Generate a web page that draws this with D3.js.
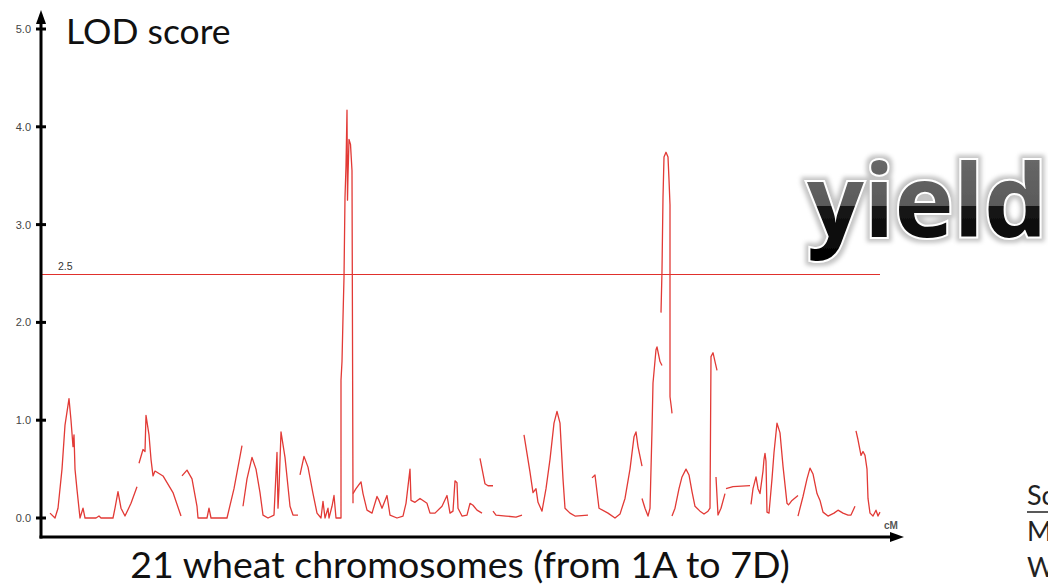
<!DOCTYPE html>
<html>
<head>
<meta charset="utf-8">
<script src="https://cdn.jsdelivr.net/npm/d3@7"></script>
<style>
html,body{margin:0;padding:0;background:#fff;overflow:hidden;}
svg{display:block;}
</style>
</head>
<body>
<svg id="chart" width="1048" height="586"></svg>
<script>
// ---- data (map position along the concatenated genome, LOD) ----
const yTicks = [0, 1, 2, 3, 4, 5];
const yTickLabels = ["0.0", "1.0", "2.0", "3.0", "4.0", "5.0"];
const threshold = 2.5;
const thresholdLabel = "2.5";
const genomeLength = 860;
const thresholdEnd = 839;
const yTitle = "LOD score";
const xTitle = "21 wheat chromosomes (from 1A to 7D)";
const xUnit = "cM";
const traitLabel = "yield";
const sideNotes = ["Sc", "M", "W"];

const segA = [[9,0.05],[14,0],[17,0.1],[21,0.5],[24,0.95],[28,1.22],[30,1.0],[32,0.73],[33,0.85],[34,0.5],[36,0.29],[39,0],[42,0.1],[44,0],[55,0],[58,0.02],[60,0],[72,0],[74,0.1],[77,0.27],[80,0.1],[84,0.02],[90,0.15],[96,0.32]];
const segB = [[98,0.56],[102,0.7],[104,0.68],[105,1.05],[108,0.85],[110,0.6],[112,0.43],[114,0.48],[122,0.43],[132,0.26],[140,0.02]];
const segC = [[141,0.43],[146,0.49],[151,0.4],[156,0.12],[157,0],[166,0],[168,0.1],[170,0],[186,0],[193,0.3],[201,0.74]];
const segD = [[202,0.12],[206,0.4],[211,0.62],[215,0.5],[219,0.26],[222,0.03],[227,0],[233,0.03],[236,0.67],[237,0.1],[238,0.3],[240,0.88],[244,0.62],[249,0.12],[252,0.03],[257,0.03]];
const segE = [[259,0.44],[263,0.63],[267,0.52],[272,0.25],[276,0.05],[280,0],[282,0.17],[284,0],[287,0.1],[288,0],[291,0.12],[293,0.23],[295,0],[300,0],[300,1.41],[301,1.6],[302,2.05],[303,2.46],[304,3.28],[305,3.6],[306,4.17],[306.5,3.25],[307,3.5],[308,3.87],[309.5,3.82],[311,3.55],[312,0.15]];
const segF = [[312,0.25],[315,0.3],[320,0.37],[322,0.25],[326,0.08],[331,0.05],[336,0.22],[338,0.18],[341,0.1],[346,0.23],[349,0.03],[356,0],[362,0.02],[365,0.15],[369,0.5],[370,0.18],[374,0.16],[379,0.2],[386,0.15],[389,0.05],[394,0.05],[401,0.12],[406,0.23],[409,0.05],[412,0.07],[414,0.38],[416,0.36],[417,0.1],[421,0.02],[426,0.03],[429,0.15],[432,0.13],[436,0.08],[441,0.05]];
const segG = [[439,0.61],[444,0.35],[447,0.33],[452,0.33]];
const segH = [[452,0.07],[455,0.03],[465,0.02],[475,0.01],[481,0.03]];
const segI = [[483,0.85],[489,0.47],[492,0.26],[495,0.3],[497,0.16],[501,0.07],[505,0.3],[509,0.6],[513,0.97],[516,1.09],[519,0.97],[522,0.4],[524,0.1],[529,0.05],[534,0.02],[547,0.03]];
const segJ = [[551,0.41],[554,0.44],[558,0.1],[567,0.05],[574,0],[579,0.04],[584,0.2],[589,0.5],[593,0.83],[595,0.88],[597,0.73],[601,0.53]];
const segK = [[601,0.2],[604,0.1],[607,0.02],[609,0.1],[611,0.9],[612,1.38],[615,1.72],[616,1.75],[619,1.6],[621,1.56]];
const segL = [[620,2.1],[621,2.53],[622,3.28],[623,3.69],[625,3.74],[627,3.69],[628,3.46],[629,3.2],[629,1.24],[630.5,1.12],[631,1.07]];
const segM = [[631,0.02],[634,0.1],[638,0.3],[641,0.42],[645,0.5],[648,0.44],[651,0.27],[654,0.12],[659,0.07],[663,0.04],[667,0.07],[669,0.1],[670,1.65],[672,1.69],[674,1.6],[676,1.51]];
const segN = [[675,0.42],[677,0.03],[680,0.1],[684,0.25]];
const segO = [[685,0.3],[692,0.32],[709,0.33]];
const segP = [[710,0.14],[712,0.3],[715,0.42],[717,0.3],[719,0.25],[722,0.48],[723,0.6],[724,0.66],[725,0.58],[726,0.06],[728,0.05],[731,0.4],[733,0.67],[736,0.97],[739,0.87],[742,0.53],[746,0.15],[748,0.13]];
const segQ = [[748,0.14],[751,0.18],[757,0.23]];
const segR = [[757,0.02],[762,0.22],[766,0.4],[769,0.51],[772,0.45],[776,0.25],[779,0.18],[782,0.06],[787,0.02],[793,0.05],[797,0.08],[802,0.05],[807,0.03],[810,0.03],[814,0.12]];
const segS = [[815,0.89],[817,0.8],[820,0.64],[822,0.68],[824,0.64],[826,0.5],[827,0.2],[829,0.05],[832,0.02],[835,0.08],[837,0.02],[839,0.06]];
const segments = [segA,segB,segC,segD,segE,segF,segG,segH,segI,segJ,segK,segL,segM,segN,segO,segP,segQ,segR,segS];

// ---- drawing ----
const svg = d3.select("#chart");
svg.append("rect").attr("width",1048).attr("height",586).attr("fill","#fff");

const x = d3.scaleLinear().domain([0, genomeLength]).range([41, 901]);
const y = d3.scaleLinear().domain([0, 5]).range([518, 29]);
const axisY = 537;

const defs = svg.append("defs");
const grad = defs.append("linearGradient").attr("id","yg").attr("x1",0).attr("y1",0).attr("x2",0).attr("y2",1);
grad.append("stop").attr("offset","0%").attr("stop-color","#707070");
grad.append("stop").attr("offset","56%").attr("stop-color","#5a5a5a");
grad.append("stop").attr("offset","56%").attr("stop-color","#161616");
grad.append("stop").attr("offset","100%").attr("stop-color","#000");
const glow = defs.append("filter").attr("id","glow").attr("x","-20%").attr("y","-20%").attr("width","140%").attr("height","140%");
glow.append("feMorphology").attr("in","SourceAlpha").attr("operator","dilate").attr("radius",3).attr("result","d");
glow.append("feGaussianBlur").attr("in","d").attr("stdDeviation",2).attr("result","b");
glow.append("feFlood").attr("flood-color","#c4c4c4");
glow.append("feComposite").attr("in2","b").attr("operator","in").attr("result","s");
const m = glow.append("feMerge");
m.append("feMergeNode").attr("in","s");
m.append("feMergeNode").attr("in","SourceGraphic");

// threshold
const ty = Math.round(y(threshold)) + 0.5;
svg.append("line").attr("x1",42).attr("x2",x(thresholdEnd)).attr("y1",ty).attr("y2",ty)
  .attr("stroke","#e0302c").attr("stroke-width",1.2);
svg.append("text").attr("x",58).attr("y",ty-5).text(thresholdLabel)
  .attr("font-family","Liberation Sans, Arial, sans-serif").attr("font-size",10.5).attr("fill","#333");

// trace
const line = d3.line().x(d=>x(d[0])).y(d=>y(d[1]));
svg.append("g").selectAll("path").data(segments).join("path")
  .attr("d", line).attr("fill","none").attr("stroke","#e23a36").attr("stroke-width",1.3)
  .attr("stroke-linejoin","round");

// axes
const ax = svg.append("g");
ax.append("line").attr("x1",41).attr("x2",41).attr("y1",axisY+1.5).attr("y2",20).attr("stroke","#000").attr("stroke-width",3);
ax.append("path").attr("d",`M41,10 L36,24 L46,24 Z`).attr("fill","#000");
ax.append("line").attr("x1",39.5).attr("x2",892).attr("y1",axisY).attr("y2",axisY).attr("stroke","#000").attr("stroke-width",3);
ax.append("path").attr("d",`M904,${axisY} L890,${axisY-5} L890,${axisY+5} Z`).attr("fill","#000");
ax.selectAll(".tk").data(yTicks).join("line").attr("x1",36).attr("x2",46)
  .attr("y1",d=>y(d)).attr("y2",d=>y(d)).attr("stroke","#000").attr("stroke-width",3);
ax.selectAll(".tl").data(yTicks).join("text").attr("x",31).attr("y",d=>y(d)+4)
  .attr("text-anchor","end").text((d,i)=>yTickLabels[i])
  .attr("font-family","Liberation Sans, Arial, sans-serif").attr("font-size",11).attr("fill","#444");
ax.append("text").attr("x",884).attr("y",529).text(xUnit)
  .attr("font-family","Liberation Sans, Arial, sans-serif").attr("font-size",10).attr("font-weight","bold").attr("fill","#555");

// titles
svg.append("text").attr("x",66).attr("y",44).text(yTitle)
  .attr("font-family","Lato, sans-serif").attr("font-size",35.5).attr("fill","#111");
svg.append("text").attr("x",460).attr("y",578).attr("text-anchor","middle").text(xTitle)
  .attr("font-family","Lato, sans-serif").attr("font-size",37.5).attr("fill","#111");

// big trait label
svg.append("text").attr("x",807).attr("y",237).text(traitLabel)
  .attr("font-family","Open Sans, sans-serif").attr("font-weight",700).attr("font-size",100)
  .attr("letter-spacing",0)
  .attr("fill","url(#yg)").attr("stroke","#fff").attr("stroke-width",4).attr("paint-order","stroke")
  .attr("filter","url(#glow)");

// side notes (cut by page edge)
const notes = svg.append("g").attr("font-family","Lato, sans-serif").attr("font-size",27).attr("fill","#222");
notes.selectAll("text").data(sideNotes).join("text").attr("x",1027).attr("y",(d,i)=>505+i*36).text(d=>d);
svg.append("line").attr("x1",1027).attr("x2",1048).attr("y1",512).attr("y2",512).attr("stroke","#222").attr("stroke-width",1.5);
</script>
</body>
</html>
